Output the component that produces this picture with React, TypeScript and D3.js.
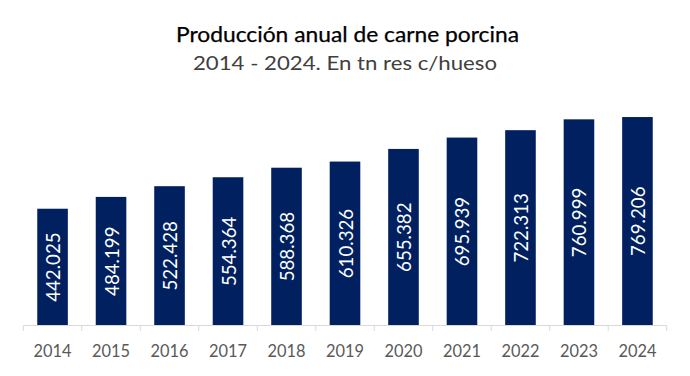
import React from "react";
import * as d3 from "d3";

const years = ["2014", "2015", "2016", "2017", "2018", "2019", "2020", "2021", "2022", "2023", "2024"];
const production = [442.025, 484.199, 522.428, 554.364, 588.368, 610.326, 655.382, 695.939, 722.313, 760.999, 769.206];
const labels = ["442.025", "484.199", "522.428", "554.364", "588.368", "610.326", "655.382", "695.939", "722.313", "760.999", "769.206"];
const title = "Producción anual de carne porcina";
const subtitle = "2014 - 2024. En tn res c/hueso";

const W = 690;
const H = 376;
const FONT = "Lato, 'Open Sans', sans-serif";

export default function App() {
  const x = d3.scaleBand<string>().domain(years).range([23.3, 666.7]).paddingInner(0.477).paddingOuter(0.2385);
  const y = d3.scaleLinear().domain([25, 800]).range([325.6, 108.4]);
  const baseY = 325.5;
  const step = x.step();
  const boundaries = d3.range(years.length + 1).map((i) => 23.3 + i * step);

  return (
    <svg width={W} height={H} style={{ position: "absolute", left: 0, top: 0, display: "block", background: "#fff" }}>
      <text x={347.5} y={42.3} textAnchor="middle" fontFamily={FONT} fontSize={20.5} fontWeight={400} fill="#000" stroke="#000" strokeWidth={0.25} textLength={343} lengthAdjust="spacingAndGlyphs">
        {title}
      </text>
      <text x={345} y={70} textAnchor="middle" fontFamily={FONT} fontSize={19.5} fill="#404040" textLength={304} lengthAdjust="spacingAndGlyphs">
        {subtitle}
      </text>
      {years.map((yr, i) => {
        const bx = x(yr)!;
        const top = y(production[i]);
        const cx = bx + x.bandwidth() / 2;
        const cy = (top + baseY) / 2;
        return (
          <g key={yr}>
            <rect x={bx} y={top} width={x.bandwidth()} height={baseY - top} fill="#002060" />
            <text
              transform={`translate(${cx},${cy}) rotate(-90)`}
              textAnchor="middle"
              dominantBaseline="central"
              fontFamily={FONT}
              fontSize={19.5}
              fill="#ffffff"
              textLength={69.5}
              lengthAdjust="spacingAndGlyphs"
            >
              {labels[i]}
            </text>
            <text x={cx} y={356.7} textAnchor="middle" fontFamily={FONT} fontSize={17} fill="#595959" textLength={38} lengthAdjust="spacingAndGlyphs">
              {yr}
            </text>
          </g>
        );
      })}
      <line x1={23.3} x2={666.7} y1={baseY} y2={baseY} stroke="#d9d9d9" strokeWidth={1} />
      {boundaries.map((bx, i) => (
        <line key={i} x1={bx} x2={bx} y1={baseY} y2={331} stroke="#d9d9d9" strokeWidth={1} />
      ))}
    </svg>
  );
}
